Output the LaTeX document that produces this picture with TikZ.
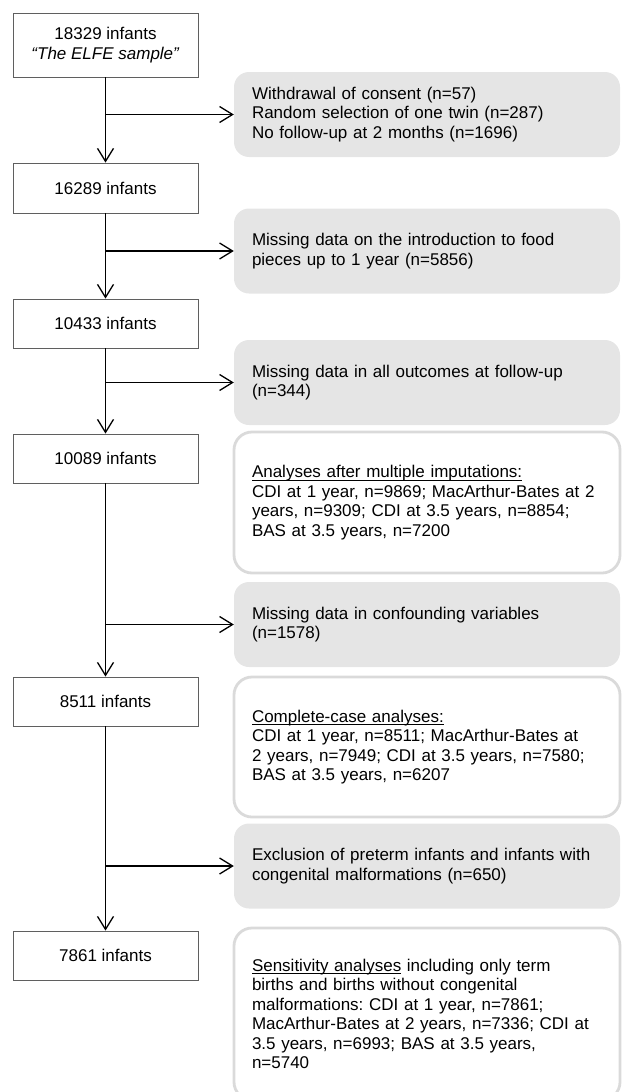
\documentclass[tikz,border=0pt]{standalone}
\usepackage{fontspec}
\setmainfont{Liberation Sans}
\usetikzlibrary{arrows.meta}
\definecolor{boxgray}{RGB}{229,229,229}
\definecolor{rimgray}{RGB}{218,218,218}
\definecolor{framegray}{RGB}{95,95,95}
\newcommand{\lineunder}[1]{\setbox0\hbox{#1}\rlap{\rule[-2.8pt]{\wd0}{0.9pt}}\box0\relax}
\frenchspacing

\begin{document}
\begin{tikzpicture}[
x=1pt, y=-1pt,
font=\fontsize{17}{19.5}\selectfont,
count/.style={draw=framegray, line width=0.8pt, minimum width=185pt, align=center, inner sep=0pt},
excl/.style={fill=boxgray, rounded corners=15pt, text width=350pt, inner xsep=18pt, inner ysep=0pt, align=left, minimum height=85pt},
result/.style={draw=rimgray, line width=2.8pt, rounded corners=18pt, text width=350pt, inner xsep=18pt, inner ysep=0pt, align=left, minimum height=#1},
arrow/.style={-{Straight Barb[length=13pt,width=16pt]}, line width=1.3pt} ]

\useasboundingbox (0,0) rectangle (622,1092);

% left column
\node[count, minimum height=64pt](n18329) at (105.5,45) {18329 infants\\\textit{“The ELFE sample”}};
\node[count, minimum height=50pt](n16289) at (105.5,188) {16289 infants};
\node[count, minimum height=49pt](n10433) at (105.5,323.5) {10433 infants};
\node[count, minimum height=49pt](n10089) at (105.5,458.5) {10089 infants};
\node[count, minimum height=49pt](n8511) at (105.5,701.5) {8511 infants};
\node[count, minimum height=49pt](n7861) at (105.5,955.5) {7861 infants};

% right column
\node[excl](consent) at (427,114.5) {Withdrawal of consent (n=57)\\Random selection of one twin (n=287)\\No follow-up at 2 months (n=1696)};
\node[excl](food) at (427,251) {Missing data on the introduction to food\\pieces up to 1 year (n=5856)};
\node[excl](outcome) at (427,382.5) {Missing data in all outcomes at follow-up\\(n=344)};
\node[result=141pt](impute) at (427,502.5) {\lineunder{Analyses after multiple imputations:}\\CDI at 1 year, n=9869; MacArthur-Bates at 2\\years, n=9309; CDI at 3.5 years, n=8854;\\BAS at 3.5 years, n=7200};
\node[excl](confound) at (427,624.5) {Missing data in confounding variables\\(n=1578)};
\node[result=140pt](complete) at (427,747) {\lineunder{Complete-case analyses:}\\CDI at 1 year, n=8511; MacArthur-Bates at\\2 years, n=7949; CDI at 3.5 years, n=7580;\\BAS at 3.5 years, n=6207};
\node[excl](preterm) at (427,866) {Exclusion of preterm infants and infants with\\congenital malformations (n=650)};
\node[result=172pt](sensitive) at (427,1014) {\lineunder{Sensitivity analyses} including only term\\births and births without congenital\\malformations: CDI at 1 year, n=7861;\\MacArthur-Bates at 2 years, n=7336; CDI at\\3.5 years, n=6993; BAS at 3.5 years,\\n=5740};

\draw[arrow] (n18329) -- (n16289);
\draw[arrow] (n16289) -- (n10433);
\draw[arrow] (n10433) -- (n10089);
\draw[arrow] (n10089) -- (n8511);
\draw[arrow] (n8511) -- (n7861);

% exclusions branch off the main line
\draw[arrow] (consent.west -| n18329) -- (consent.west);
\draw[arrow] (food.west -| n16289) -- (food.west);
\draw[arrow] (outcome.west -| n10433) -- (outcome.west);
\draw[arrow] (confound.west -| n10089) -- (confound.west);
\draw[arrow] (preterm.west -| n8511) -- (preterm.west);

\end{tikzpicture}
\end{document}
